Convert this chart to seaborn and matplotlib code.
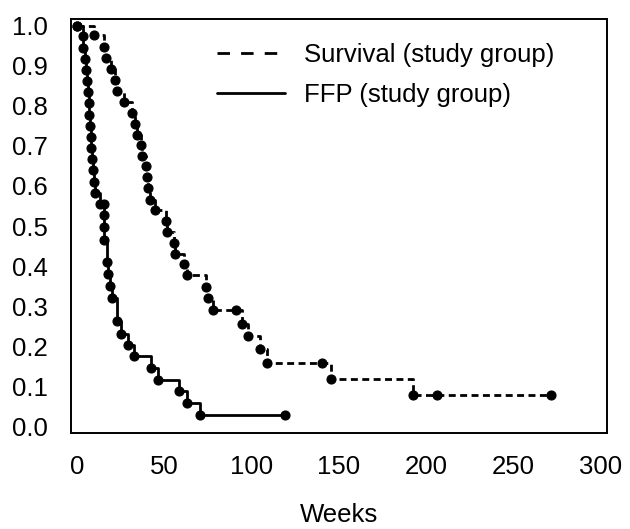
import matplotlib
matplotlib.use("Agg")
import matplotlib.pyplot as plt
import seaborn as sns
from matplotlib.lines import Line2D

# ---- data ----
ffp_weeks = [0, 3.3, 3.6, 4.4, 5.2, 5.9, 6.5, 6.7, 7.0, 7.4, 7.8, 8.2, 8.6, 9.2, 9.7, 10.5,
             13.2, 15.5, 15.5, 15.5, 15.6, 17.3, 17.7, 18.9, 20.2, 22.7, 25.0, 29.0, 32.8,
             42.4, 46.2, 58.4, 62.8, 70.4, 119]
ffp_prob = [1.0, 0.974, 0.945, 0.916, 0.889, 0.861, 0.834, 0.806, 0.778, 0.751, 0.722, 0.695,
            0.667, 0.639, 0.61, 0.583, 0.554, 0.554, 0.527, 0.498, 0.466, 0.41, 0.38, 0.35,
            0.32, 0.263, 0.231, 0.203, 0.175, 0.145, 0.115, 0.087, 0.057, 0.027, 0.027]

surv_weeks = [0, 9.7, 15.2, 16.3, 19.2, 21.9, 22.9, 27.1, 31.5, 33.2, 34.5, 36.6, 37.4, 39.3,
              39.9, 40.6, 41.5, 44.6, 50.9, 51.7, 55.7, 55.9, 61.4, 62.8, 74.0, 75.0, 78.0,
              91.2, 94.2, 98.1, 105.0, 108.6, 140.4, 145.4, 192.2, 206.2, 271.7]
surv_prob = [1.0, 0.976, 0.947, 0.919, 0.891, 0.864, 0.838, 0.81, 0.782, 0.756, 0.728, 0.702,
             0.675, 0.649, 0.622, 0.594, 0.566, 0.539, 0.513, 0.485, 0.458, 0.431, 0.406,
             0.377, 0.348, 0.319, 0.291, 0.291, 0.256, 0.225, 0.192, 0.159, 0.159, 0.119,
             0.077, 0.077, 0.077]

series_labels = ["Survival (study group)", "FFP (study group)"]
x_ticks = [0, 50, 100, 150, 200, 250, 300]
y_ticks = [0.0, 0.1, 0.2, 0.3, 0.4, 0.5, 0.6, 0.7, 0.8, 0.9, 1.0]
y_tick_labels = ["0.0", "0.1", "0.2", "0.3", "0.4", "0.5", "0.6", "0.7", "0.8", "0.9", "1.0"]
x_label = "Weeks"

# ---- style ----
sns.set_style("white")
plt.rcParams["font.family"] = ["Liberation Sans", "DejaVu Sans"]
plt.rcParams["text.color"] = "black"
plt.rcParams["axes.labelcolor"] = "black"
FS = 18.5

fig = plt.figure(figsize=(6.3, 5.29), dpi=100)
ax = fig.add_axes([71 / 630, 1 - 433 / 529, (607 - 71) / 630, (433 - 19) / 529])

common = dict(ax=ax, sort=False, estimator=None, drawstyle="steps-post", color="black",
              marker="o", markersize=6.5, markerfacecolor="black", markeredgecolor="black",
              markeredgewidth=0.8)
sns.lineplot(x=surv_weeks, y=surv_prob, linewidth=2.0, linestyle=(0, (2.5, 1.6)), **common)
sns.lineplot(x=ffp_weeks, y=ffp_prob, linewidth=2.0, linestyle="-", **common)

ax.set_xlim(-3.5, 303.5)
ax.set_ylim(-0.017, 1.017)
ax.set_xticks(x_ticks)
ax.set_xticklabels([str(t) for t in x_ticks])
ax.set_yticks(y_ticks)
ax.set_yticklabels(y_tick_labels)
ax.tick_params(axis="both", direction="out", length=3, width=0.8, color="0.35",
               labelsize=FS, labelcolor="black")
ax.tick_params(axis="x", pad=13)
ax.tick_params(axis="y", pad=14)
ax.set_xlabel(x_label, fontsize=FS, labelpad=17, color="black")
ax.set_ylabel("")

for sp in ax.spines.values():
    sp.set_visible(True)
    sp.set_color("black")
    sp.set_linewidth(1.4)

handles = [
    Line2D([], [], color="black", linewidth=2.0, linestyle=(0, (4.5, 4.0))),
    Line2D([], [], color="black", linewidth=2.0, linestyle="-"),
]
leg = ax.legend(handles, series_labels, loc="upper left", bbox_to_anchor=(0.272, 0.943),
                frameon=False, fontsize=FS, handlelength=2.65, handletextpad=0.75,
                labelspacing=0.63, borderpad=0, borderaxespad=0)
for t in leg.get_texts():
    t.set_color("black")

fig.savefig("out.png", dpi=100)
